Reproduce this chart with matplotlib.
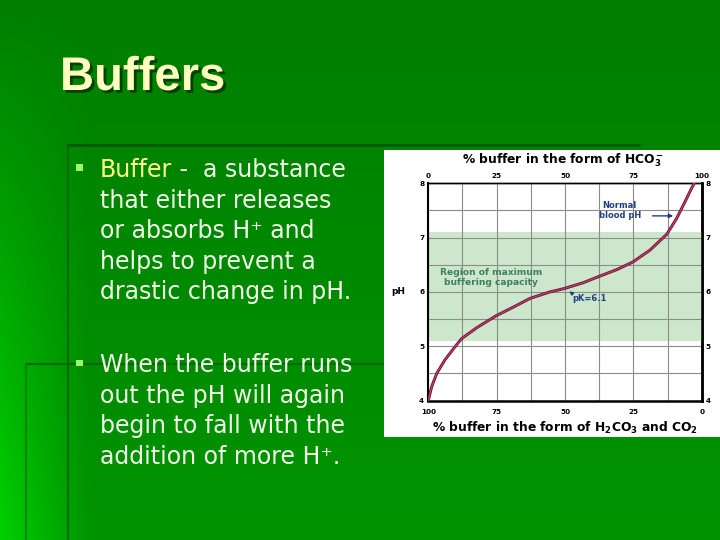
import numpy as np
import matplotlib
matplotlib.use('Agg')
import matplotlib.pyplot as plt
from matplotlib.patches import Rectangle
import matplotlib.patheffects as pe

# ---------------- data ----------------
pct_hco3 = [0, 1.2, 3.1, 6.1, 10.4, 12.2, 17.7, 24.8, 31.1, 37.2, 44.5, 49.6,
            56.7, 62.2, 68.9, 74.8, 81.1, 87.2, 90.8, 93.9, 96.3, 97.3]
ph_values = [4.0, 4.25, 4.5, 4.75, 5.03, 5.14, 5.34, 5.56, 5.72, 5.88, 6.0, 6.06,
             6.17, 6.28, 6.41, 6.55, 6.77, 7.06, 7.35, 7.66, 7.91, 8.0]
band_low, band_high = 5.1, 7.1
normal_blood_ph = 7.4
pk_value = 6.1
pct_ticks = [0, 25, 50, 75, 100]
top_labels = ['0', '25', '50', '75', '100']
bottom_labels = ['100', '75', '50', '25', '0']
ph_ticks = [4, 5, 6, 7, 8]
ph_labels = ['4', '5', '6', '7', '8']

title = "Buffers"
bullet1_head = "Buffer"
bullet1 = [" -  a substance", "that either releases", "or absorbs H\u207a and",
           "helps to prevent a", "drastic change in pH."]
bullet2 = ["When the buffer runs", "out the pH will again", "begin to fall with the",
           "addition of more H\u207a."]

plt.rcParams['mathtext.fontset'] = 'dejavusans'

W, H = 720, 540
fig = plt.figure(figsize=(7.2, 5.4), dpi=100)
bg = fig.add_axes([0, 0, 1, 1])
bg.axis('off')

# slide background gradient
yy, xx = np.mgrid[0:H, 0:W]
g = 126 + 22 * (yy / H) + 60 * (yy / H) * np.clip(1 - xx / 90, 0, 1)
img = np.zeros((H, W, 3))
img[..., 1] = g / 255
bg.imshow(img, extent=(0, W, H, 0), aspect='auto', zorder=0)
bg.set_xlim(0, W)
bg.set_ylim(H, 0)

# decorative lines
bg.plot([66, 640], [145, 145], color='#005C00', lw=2.2, zorder=1, solid_capstyle='butt')
bg.plot([68, 68], [145, 540], color='#006E00', lw=1.6, zorder=1, solid_capstyle='butt')
bg.plot([26, 26], [364, 540], color='#008A00', lw=1.6, zorder=1, solid_capstyle='butt')
bg.plot([26, 384], [364, 364], color='#006C00', lw=1.6, zorder=1, solid_capstyle='butt')

# white box behind chart
bg.add_patch(Rectangle((384, 150), 336, 287, facecolor='white', edgecolor='none', zorder=2))

# title with shadow
bg.text(60, 90, title, fontsize=34, fontweight='bold', family='Liberation Sans',
        color='#FFFFC0', va='baseline', zorder=4,
        path_effects=[pe.withSimplePatchShadow(offset=(2, -2), shadow_rgbFace='#003A00', alpha=0.9)])

# body text
txt_color = '#F2FBEA'
body_font = ['DejaVu Sans']
fs = 17
head = bg.text(100, 177, bullet1_head, fontsize=fs, family=body_font,
               color='#FFFF88', va='baseline', zorder=4)
renderer = fig.canvas.get_renderer()
head_right = head.get_window_extent(renderer).x1  # display px == slide px
for i, line in enumerate(bullet1):
    x0 = head_right if i == 0 else 100
    bg.text(x0, 177 + 30.5 * i, line, fontsize=fs, family=body_font,
            color=txt_color, va='baseline', zorder=3)
for i, line in enumerate(bullet2):
    bg.text(100, 372 + 30.5 * i, line, fontsize=fs, family=body_font,
            color=txt_color, va='baseline', zorder=3)
bg.add_patch(Rectangle((76, 164), 6.5, 6.5, facecolor='#99FF66', edgecolor='none', zorder=3))
bg.add_patch(Rectangle((76, 359.5), 6.5, 6.5, facecolor='#99FF66', edgecolor='none', zorder=3))

# chart axis titles
bg.text(563, 160, r"% buffer in the form of $\mathbf{HCO_3^-}$", fontsize=8.8,
        fontweight='bold', ha='center', va='center', color='black', zorder=3)
bg.text(565, 428, r"% buffer in the form of $\mathbf{H_2CO_3}$ and $\mathbf{CO_2}$",
        fontsize=8.8, fontweight='bold', ha='center', va='center', color='black', zorder=3)
bg.text(398, 292, "pH", fontsize=6.5, fontweight='bold', ha='center', va='center',
        color='black', zorder=3)

# ---------------- chart ----------------
ax = fig.add_axes([428.3 / W, 1 - 400.5 / H, 273.4 / W, 217.2 / H])
ax.set_zorder(3)
ax.set_facecolor('white')
ax.axhspan(band_low, band_high, color='#CCE7CC', lw=0, zorder=0.2)
ax.set_xlim(0, 100)
ax.set_ylim(4, 8)
ax.set_xticks(pct_ticks)
ax.set_xticks(np.arange(0, 101, 12.5), minor=True)
ax.set_yticks(ph_ticks)
ax.set_yticks(np.arange(4, 8.01, 0.5), minor=True)
ax.set_axisbelow(True)
ax.grid(which='both', color='#8C8C8C', lw=0.8)
ax.plot(pct_hco3, ph_values, color='#C23A68', lw=1.0, zorder=3,
        solid_joinstyle='round',
        path_effects=[pe.Stroke(linewidth=2.1, foreground='#5E1030'), pe.Normal()])

tick_kw = dict(fontsize=5.2, fontweight='bold')
ax.set_xticklabels(bottom_labels, **tick_kw)
ax.set_yticklabels(ph_labels, **tick_kw)
ax.tick_params(which='both', length=0)
ax.tick_params(axis='x', pad=6)
ax.tick_params(axis='y', pad=3)

sec = ax.secondary_xaxis('top')
sec.set_xticks(pct_ticks, labels=top_labels, **tick_kw)
sec.tick_params(length=0, pad=3)
sec.spines['top'].set_linewidth(1.0)
secy = ax.secondary_yaxis('right')
secy.set_yticks(ph_ticks, labels=ph_labels, **tick_kw)
secy.tick_params(length=0, pad=3)
secy.spines['right'].set_linewidth(1.8)

ax.spines['left'].set_linewidth(1.5)
ax.spines['bottom'].set_linewidth(1.8)
ax.spines['right'].set_linewidth(1.8)
ax.spines['top'].set_linewidth(1.0)

navy = '#22407F'
ax.text(70, 7.495, "Normal\nblood pH", ha='center', va='center', fontsize=6,
        fontweight='bold', color=navy, linespacing=1.15, zorder=4)
ax.annotate('', xy=(90.6, normal_blood_ph), xytext=(81, normal_blood_ph),
            arrowprops=dict(arrowstyle='-|>', color=navy, lw=1, mutation_scale=6), zorder=4)
ax.text(23, 6.26, "Region of maximum\nbuffering capacity", ha='center', va='center',
        fontsize=6.6, fontweight='bold', color='#3F7F5F', linespacing=1.15, zorder=4)
ax.text(59, 5.88, "pK=%.1f" % pk_value, ha='center', va='center', fontsize=6,
        fontweight='bold', color=navy, zorder=4)
ax.annotate('', xy=(50.8, 6.045), xytext=(53.6, 5.93),
            arrowprops=dict(arrowstyle='-|>', color=navy, lw=1, mutation_scale=5), zorder=4)

fig.savefig('out.png', dpi=100)
